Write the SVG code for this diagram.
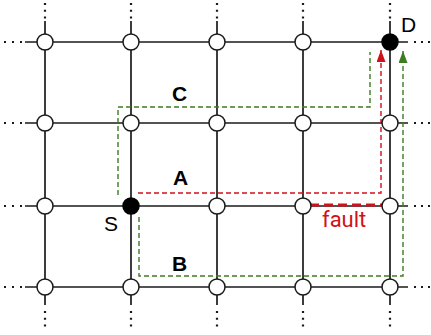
<svg xmlns="http://www.w3.org/2000/svg" width="431" height="335" viewBox="0 0 431 335">
  <style>
    .grid { stroke: #1a1a1a; stroke-width: 1.7; fill: none; }
    .dots { stroke: #1a1a1a; stroke-width: 2.2; fill: none; }
    .node { fill: #ffffff; stroke: #1a1a1a; stroke-width: 1.5; }
    .term { fill: #000000; stroke: #000000; stroke-width: 1.5; }
    .green { stroke: #3d7c22; stroke-width: 1.4; fill: none; stroke-dasharray: 5 3; }
    .red { stroke: #d0101a; stroke-width: 1.4; fill: none; stroke-dasharray: 5 3; }
    .fault { stroke: #d0101a; stroke-width: 3; fill: none; stroke-dasharray: 9 5; }
    .lbl { font-family: "Liberation Sans", Arial, sans-serif; font-size: 21px; fill: #000; }
    .bold { font-weight: bold; }
    .faulttxt { font-family: Roboto, "Liberation Sans", sans-serif; font-size: 22px; fill: #d0101a; }
  </style>
  <defs>
    <marker id="arrowRed" viewBox="0 0 12 9" refX="12" refY="4.5" markerWidth="12" markerHeight="9" markerUnits="userSpaceOnUse" orient="auto">
      <path d="M0,0 L12,4.5 L0,9 Z" fill="#d0101a"/>
    </marker>
    <marker id="arrowGreen" viewBox="0 0 12 9" refX="12" refY="4.5" markerWidth="12" markerHeight="9" markerUnits="userSpaceOnUse" orient="auto">
      <path d="M0,0 L12,4.5 L0,9 Z" fill="#3d7c22"/>
    </marker>
  </defs>

  <!-- mesh links -->
  <g id="links">
    <g class="grid">
      <line x1="25" y1="42" x2="408" y2="42"/>
      <line x1="25" y1="123" x2="408" y2="123"/>
      <line x1="25" y1="206" x2="408" y2="206"/>
      <line x1="25" y1="287" x2="408" y2="287"/>
      <line x1="45" y1="21" x2="45" y2="305"/>
      <line x1="131" y1="21" x2="131" y2="305"/>
      <line x1="217" y1="21" x2="217" y2="305"/>
      <line x1="303" y1="21" x2="303" y2="305"/>
      <line x1="390" y1="21" x2="390" y2="305"/>
    </g>
    <!-- continuation dots -->
    <g class="dots" stroke-dasharray="2 6">
      <line x1="4" y1="42" x2="24" y2="42"/>
      <line x1="4" y1="123" x2="24" y2="123"/>
      <line x1="4" y1="206" x2="24" y2="206"/>
      <line x1="4" y1="287" x2="24" y2="287"/>
    </g>
    <g class="dots" stroke-dasharray="2 5">
      <line x1="414" y1="42" x2="431" y2="42"/>
      <line x1="414" y1="123" x2="431" y2="123"/>
      <line x1="414" y1="206" x2="431" y2="206"/>
      <line x1="414" y1="287" x2="431" y2="287"/>
    </g>
    <g class="dots" stroke-dasharray="2 4.7">
      <line x1="45" y1="3" x2="45" y2="19"/>
      <line x1="131" y1="3" x2="131" y2="19"/>
      <line x1="217" y1="3" x2="217" y2="19"/>
      <line x1="303" y1="3" x2="303" y2="19"/>
      <line x1="390" y1="3" x2="390" y2="19"/>
      <line x1="45" y1="311" x2="45" y2="327"/>
      <line x1="131" y1="311" x2="131" y2="327"/>
      <line x1="217" y1="311" x2="217" y2="327"/>
      <line x1="303" y1="311" x2="303" y2="327"/>
      <line x1="390" y1="311" x2="390" y2="327"/>
    </g>
  </g>

  <!-- routes and the broken link -->
  <g id="routes">
    <path class="green" d="M118,195 V107 H370 V52"/>
    <path class="red" d="M138,193 H381 V50" marker-end="url(#arrowRed)"/>
    <path class="green" d="M139,217 V276 H403 V51" marker-end="url(#arrowGreen)"/>
    <path class="fault" d="M310,205 H382"/>
  </g>

  <!-- switches -->
  <g id="nodes">
    <g id="n-0-0"><circle class="node" cx="45" cy="42" r="8"/></g>
    <g id="n-1-0"><circle class="node" cx="131" cy="42" r="8"/></g>
    <g id="n-2-0"><circle class="node" cx="217" cy="42" r="8"/></g>
    <g id="n-3-0"><circle class="node" cx="303" cy="42" r="8"/></g>
    <g id="node-D"><circle class="term" cx="390" cy="42" r="8"/></g>
    <g id="n-0-1"><circle class="node" cx="45" cy="123" r="8"/></g>
    <g id="n-1-1"><circle class="node" cx="131" cy="123" r="8"/></g>
    <g id="n-2-1"><circle class="node" cx="217" cy="123" r="8"/></g>
    <g id="n-3-1"><circle class="node" cx="303" cy="123" r="8"/></g>
    <g id="n-4-1"><circle class="node" cx="390" cy="123" r="8"/></g>
    <g id="n-0-2"><circle class="node" cx="45" cy="206" r="8"/></g>
    <g id="node-S"><circle class="term" cx="131" cy="206" r="8"/></g>
    <g id="n-2-2"><circle class="node" cx="217" cy="206" r="8"/></g>
    <g id="n-3-2"><circle class="node" cx="303" cy="206" r="8"/></g>
    <g id="n-4-2"><circle class="node" cx="390" cy="206" r="8"/></g>
    <g id="n-0-3"><circle class="node" cx="45" cy="287" r="8"/></g>
    <g id="n-1-3"><circle class="node" cx="131" cy="287" r="8"/></g>
    <g id="n-2-3"><circle class="node" cx="217" cy="287" r="8"/></g>
    <g id="n-3-3"><circle class="node" cx="303" cy="287" r="8"/></g>
    <g id="n-4-3"><circle class="node" cx="390" cy="287" r="8"/></g>
  </g>

  <!-- labels -->
  <g id="labels">
    <text class="lbl bold" x="172" y="101">C</text>
    <text class="lbl bold" x="173" y="185">A</text>
    <text class="lbl bold" x="172" y="271">B</text>
    <text class="lbl" x="104" y="231">S</text>
    <text class="lbl" x="401" y="32">D</text>
    <text class="faulttxt" x="322" y="227">fault</text>
  </g>
</svg>
